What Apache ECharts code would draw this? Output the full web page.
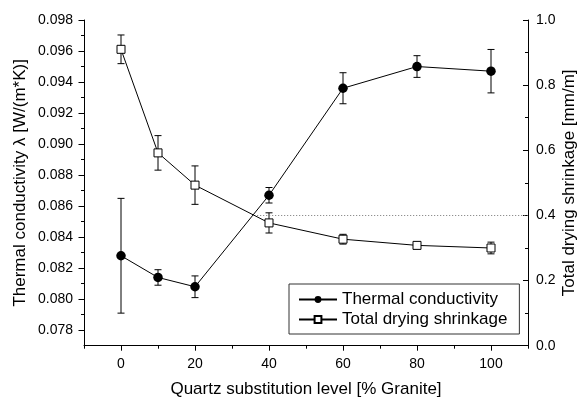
<!DOCTYPE html>
<html><head><meta charset="utf-8">
<script src="https://cdn.jsdelivr.net/npm/echarts@6/dist/echarts.min.js"></script>
<style>html,body{margin:0;padding:0;background:#fff}#c{width:579px;height:398px}</style>
</head><body><div id="c"></div>
<script>
// ---- data ----
const xValues = [0, 10, 20, 40, 60, 80, 100];
const conductivity = [0.0828, 0.0814, 0.0808, 0.0867, 0.0936, 0.0950, 0.0947];
const conductivityErr = [0.0037, 0.0005, 0.0007, 0.0005, 0.0010, 0.0007, 0.0014];
const shrinkage = [0.910, 0.592, 0.493, 0.377, 0.327, 0.308, 0.300];
const shrinkageErr = [0.044, 0.053, 0.059, 0.031, 0.015, 0.007, 0.018];
const refLine = [[36, 0.4], [110, 0.4]];
const xMajorTicks = [0, 20, 40, 60, 80, 100];
const xMinorTicks = [-10, 10, 30, 50, 70, 90, 110];
const yLeftMajorTicks = [0.078, 0.080, 0.082, 0.084, 0.086, 0.088, 0.090, 0.092, 0.094, 0.096, 0.098];
const yLeftMinorTicks = [0.079, 0.081, 0.083, 0.085, 0.087, 0.089, 0.091, 0.093, 0.095, 0.097];
const seriesNames = ['Thermal conductivity', 'Total drying shrinkage'];
const xTitle = 'Quartz substitution level [% Granite]';
const yLeftTitle = 'Thermal conductivity λ [W/(m*K)]';
const yRightTitle = 'Total drying shrinkage [mm/m]';

const FONT = '"Liberation Sans", Arial, sans-serif';
const chart = echarts.init(document.getElementById('c'), null, {renderer: 'canvas'});

function errBar(params, api) {
  const x = api.value(0), lo = api.value(1), hi = api.value(2);
  const p1 = api.coord([x, lo]), p2 = api.coord([x, hi]);
  const w = 3.5;
  const style = {stroke: '#000', lineWidth: 1, fill: null};
  return {type: 'group', children: [
    {type: 'line', shape: {x1: p1[0], y1: p1[1], x2: p2[0], y2: p2[1]}, style: style},
    {type: 'line', shape: {x1: p1[0] - w, y1: p1[1], x2: p1[0] + w, y2: p1[1]}, style: style},
    {type: 'line', shape: {x1: p2[0] - w, y1: p2[1], x2: p2[0] + w, y2: p2[1]}, style: style}
  ]};
}

const labelStyle = {fontSize: 14, color: '#000', fontFamily: FONT};
const nameStyle = {fontSize: 17, color: '#000', fontFamily: FONT};

chart.setOption({
  animation: false,
  backgroundColor: '#fff',
  grid: {left: 84, right: 51, top: 20, bottom: 52.3, containLabel: false, outerBoundsMode: 'none'},
  legend: {
    orient: 'vertical', left: 289, top: 284,
    padding: [7, 12, 6, 9], itemGap: 3, itemWidth: 38, itemHeight: 8.5,
    borderColor: '#333', borderWidth: 1, backgroundColor: '#fff', borderRadius: 0,
    textStyle: {fontSize: 17, color: '#000', fontFamily: FONT, lineHeight: 17},
    data: seriesNames
  },
  xAxis: [
    {type: 'value', min: -10, max: 110, position: 'bottom',
     axisLine: {onZero: false, lineStyle: {color: '#000', width: 1}},
     axisTick: {customValues: xMajorTicks, length: 5, lineStyle: {color: '#000'}},
     axisLabel: Object.assign({customValues: xMajorTicks, margin: 11}, labelStyle),
     splitLine: {show: false},
     name: xTitle, nameLocation: 'middle', nameGap: 35, nameMoveOverlap: false, nameTextStyle: nameStyle},
    {type: 'value', min: -10, max: 110, position: 'bottom',
     axisLine: {show: false, onZero: false},
     axisTick: {customValues: xMinorTicks, length: 3, lineStyle: {color: '#000'}},
     axisLabel: {show: false}, splitLine: {show: false}}
  ],
  yAxis: [
    {type: 'value', min: 0.077, max: 0.098, position: 'left',
     axisLine: {show: true, onZero: false, lineStyle: {color: '#000', width: 1}},
     axisTick: {show: true, customValues: yLeftMajorTicks, length: 5.5, lineStyle: {color: '#000'}},
     axisLabel: Object.assign({customValues: yLeftMajorTicks, margin: 11,
       formatter: v => v.toFixed(3)}, labelStyle),
     splitLine: {show: false},
     name: yLeftTitle, nameLocation: 'middle', nameGap: 55, nameMoveOverlap: false, nameTextStyle: nameStyle},
    {type: 'value', min: 0.077, max: 0.098, position: 'left',
     axisLine: {show: false, onZero: false},
     axisTick: {show: true, customValues: yLeftMinorTicks, length: 3, lineStyle: {color: '#000'}},
     axisLabel: {show: false}, splitLine: {show: false}},
    {type: 'value', min: 0, max: 1, interval: 0.2, position: 'right',
     axisLine: {show: true, onZero: false, lineStyle: {color: '#000', width: 1}},
     axisTick: {show: true, inside: true, length: 5, lineStyle: {color: '#000'}},
     minorTick: {show: true, splitNumber: 2, length: 3, lineStyle: {color: '#000'}},
     axisLabel: Object.assign({margin: 8, formatter: v => v.toFixed(1)}, labelStyle),
     splitLine: {show: false},
     name: yRightTitle, nameLocation: 'middle', nameGap: 33, nameMoveOverlap: false, nameTextStyle: nameStyle}
  ],
  series: [
    {type: 'custom', name: 'condErr', xAxisIndex: 0, yAxisIndex: 0, z: 2,
     renderItem: errBar, encode: {x: 0, y: [1, 2]},
     data: xValues.map((x, i) => [x, conductivity[i] - conductivityErr[i], conductivity[i] + conductivityErr[i]])},
    {type: 'custom', name: 'shrErr', xAxisIndex: 0, yAxisIndex: 2, z: 2,
     renderItem: errBar, encode: {x: 0, y: [1, 2]},
     data: xValues.map((x, i) => [x, shrinkage[i] - shrinkageErr[i], shrinkage[i] + shrinkageErr[i]])},
    {type: 'line', name: seriesNames[0], xAxisIndex: 0, yAxisIndex: 0, z: 5,
     symbol: 'circle', symbolSize: 9.5, showAllSymbol: true,
     lineStyle: {color: '#000', width: 1}, itemStyle: {color: '#000'},
     emphasis: {disabled: true},
     data: xValues.map((x, i) => [x, conductivity[i]])},
    {type: 'line', name: seriesNames[1], xAxisIndex: 0, yAxisIndex: 2, z: 5,
     symbol: 'rect', symbolSize: 8, showAllSymbol: true,
     lineStyle: {color: '#000', width: 1}, itemStyle: {color: '#fff', borderColor: '#000', borderWidth: 1},
     emphasis: {disabled: true},
     markLine: {silent: true, symbol: 'none', label: {show: false},
       lineStyle: {type: [1, 2], color: '#777', width: 1},
       data: [[{coord: refLine[0]}, {coord: refLine[1]}]]},
     data: xValues.map((x, i) => [x, shrinkage[i]])}
  ]
});
</script></body></html>
